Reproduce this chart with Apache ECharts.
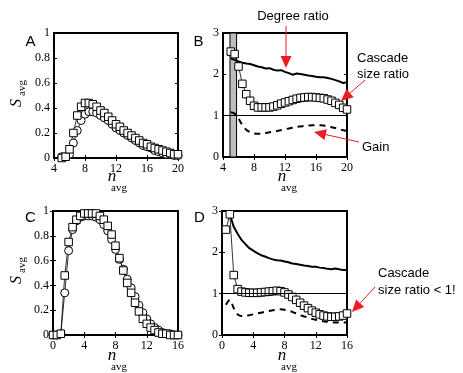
<!DOCTYPE html>
<html><head><meta charset="utf-8">
<script src="https://cdn.jsdelivr.net/npm/echarts@6/dist/echarts.min.js"></script>
<style>html,body{margin:0;padding:0;background:#fff}#c{width:463px;height:373px}</style>
</head><body><div id="c"></div>
<script>
// ---------- data ----------
var xA = [5,5.5,6,6.5,7,7.5,8,8.5,9,9.5,10,10.5,11,11.5,12,12.5,13,13.5,14,14.5,15,15.5,16,16.5,17,17.5,18,18.5,19,19.5,20];
var aSquares = [0.00,0.01,0.07,0.20,0.34,0.41,0.44,0.44,0.43,0.41,0.38,0.36,0.33,0.30,0.27,0.25,0.22,0.20,0.18,0.16,0.14,0.12,0.11,0.09,0.08,0.07,0.06,0.05,0.04,0.03,0.03];
var aCircles = [0.01,0.01,0.03,0.12,0.22,0.30,0.35,0.37,0.37,0.36,0.34,0.32,0.30,0.27,0.24,0.22,0.20,0.18,0.16,0.14,0.12,0.10,0.09,0.08,0.06,0.05,0.04,0.03,0.03,0.02,0.02];

var xB = xA;
var bDegree = [2.38,2.35,2.31,2.28,2.26,2.25,2.22,2.19,2.17,2.14,2.15,2.11,2.09,2.10,2.06,2.03,1.99,2.02,2.01,1.99,1.97,1.96,1.94,1.93,1.93,1.91,1.89,1.86,1.83,1.79,1.81];
var bCascade = [2.55,2.49,2.19,1.77,1.52,1.36,1.24,1.20,1.20,1.20,1.20,1.22,1.25,1.29,1.32,1.35,1.38,1.41,1.43,1.44,1.45,1.45,1.44,1.43,1.42,1.39,1.36,1.31,1.26,1.19,1.15];
var bGain = [1.08,1.05,0.93,0.77,0.66,0.60,0.57,0.56,0.56,0.58,0.60,0.61,0.63,0.65,0.67,0.69,0.71,0.73,0.74,0.75,0.76,0.77,0.77,0.77,0.76,0.74,0.72,0.70,0.67,0.65,0.63];
var bBand = [4.9, 5.75];

var xC = [0,0.5,1,1.5,2,2.5,3,3.5,4,4.5,5,5.5,6,6.5,7,7.5,8,8.5,9,9.5,10,10.5,11,11.5,12,12.5,13,13.5,14,14.5,15,15.5,16];
var cSquares = [0,0,0.01,0.48,0.75,0.87,0.93,0.96,0.98,0.98,0.98,0.98,0.96,0.93,0.88,0.81,0.72,0.62,0.52,0.42,0.34,0.26,0.19,0.13,0.09,0.06,0.04,0.02,0.01,0.01,0,0,0];
var cCircles = [0,0,0.01,0.34,0.68,0.85,0.92,0.95,0.96,0.96,0.96,0.95,0.93,0.89,0.84,0.77,0.69,0.61,0.53,0.45,0.38,0.31,0.24,0.18,0.13,0.09,0.06,0.04,0.02,0.01,0.01,0,0];

var xD = [0.5,1,1.5,2,2.5,3,3.5,4,4.5,5,5.5,6,6.5,7,7.5,8,8.5,9,9.5,10,10.5,11,11.5,12,12.5,13,13.5,14,14.5,15,15.5,16];
var dCascade = [2.55,2.92,1.45,1.11,1.05,1.03,1.02,1.02,1.02,1.03,1.04,1.05,1.06,1.07,1.06,1.03,0.98,0.92,0.85,0.78,0.71,0.65,0.59,0.54,0.50,0.47,0.45,0.44,0.44,0.45,0.47,0.52];
var dDegree = [null,2.92,2.62,2.45,2.30,2.20,2.10,2.04,1.98,1.93,1.90,1.86,1.83,1.81,1.80,1.78,1.76,1.73,1.72,1.70,1.68,1.67,1.65,1.65,1.63,1.62,1.60,1.59,1.61,1.59,1.57,1.57];
var dGain = [0.73,0.85,0.65,0.50,0.46,0.47,0.48,0.50,0.52,0.54,0.56,0.58,0.60,0.61,0.62,0.61,0.59,0.56,0.52,0.48,0.45,0.42,0.39,0.37,0.35,0.33,0.32,0.31,0.30,0.30,0.30,0.31];

var ticksAB_x = [4, 20, 4];
var ticksCD_x = [0, 16, 4];
var ticksS_y = [0, 1, 0.2];
var ticksR_y = [0, 3, 1];

// ---------- helpers ----------
function pairs(xs, ys){ var o=[]; for(var i=0;i<xs.length;i++){ if(ys[i]!==null) o.push([xs[i],ys[i]]); } return o; }
var serif = 'Liberation Serif';
function xAx(g, t, pos){
  return {type:'value', gridIndex:g, min:t[0], max:t[1], interval:t[2], position:pos,
    axisLine:{show:false}, splitLine:{show:false},
    axisTick:{show:true, inside:true, length:3, lineStyle:{color:'#000', width:1}},
    axisLabel:{show:pos==='bottom', color:'#000', fontFamily:serif, fontSize:12, margin:5}};
}
function yAx(g, t, pos){
  return {type:'value', gridIndex:g, min:t[0], max:t[1], interval:t[2], position:pos,
    axisLine:{show:false}, splitLine:{show:false},
    axisTick:{show:true, inside:true, length:3, lineStyle:{color:'#000', width:1}},
    axisLabel:{show:pos==='left', color:'#000', fontFamily:serif, fontSize:12, margin:4}};
}
function markers(xi, yi, xs, ys, sym, size){
  return {type:'line', xAxisIndex:xi, yAxisIndex:yi, data:pairs(xs,ys), symbol:sym, symbolSize:size,
    showSymbol:true, lineStyle:{color:'#000', width:0.8}, itemStyle:{color:'#fff', borderColor:'#000', borderWidth:1},
    animation:false, z:3};
}
function solid(xi, yi, xs, ys){
  return {type:'line', xAxisIndex:xi, yAxisIndex:yi, data:pairs(xs,ys), symbol:'none',
    lineStyle:{color:'#000', width:2}, animation:false, z:2};
}
function dashed(xi, yi, xs, ys){
  return {type:'line', xAxisIndex:xi, yAxisIndex:yi, data:pairs(xs,ys), symbol:'none', smooth:0.3,
    lineStyle:{color:'#000', width:2, type:[6,5]}, animation:false, z:2};
}
var oneLine = {silent:true, symbol:'none', label:{show:false}, lineStyle:{color:'#000', width:1, type:'solid'}, data:[{yAxis:1}], animation:false};

var grids = [
  {left:54, top:33, width:124, height:125},
  {left:223, top:33, width:124, height:124},
  {left:53, top:211, width:125, height:124},
  {left:222, top:211, width:125, height:124}
].map(function(g){ g.show=true; g.borderColor='#000'; g.borderWidth=2; g.backgroundColor='transparent'; return g; });

var xAxes = [], yAxes = [];
[ticksAB_x, ticksAB_x, ticksCD_x, ticksCD_x].forEach(function(t,g){ xAxes.push(xAx(g,t,'bottom')); xAxes.push(xAx(g,t,'top')); });
[ticksS_y, ticksR_y, ticksS_y, ticksR_y].forEach(function(t,g){ yAxes.push(yAx(g,t,'left')); yAxes.push(yAx(g,t,'right')); });

var bCasc = markers(2,2,xB,bCascade,'rect',7.5);
bCasc.markArea = {silent:true, itemStyle:{color:'#bdbdbd', borderColor:'#000', borderWidth:1}, data:[[{xAxis:bBand[0]},{xAxis:bBand[1]}]]};
var bDeg = solid(2,2,xB,bDegree); bDeg.markLine = oneLine;
var dDeg = solid(6,6,xD,dDegree); dDeg.markLine = oneLine;

var series = [
  markers(0,0,xA,aCircles,'circle',8),
  markers(0,0,xA,aSquares,'rect',7.5),
  bDeg, dashed(2,2,xB,bGain), bCasc,
  markers(4,4,xC,cCircles,'circle',8),
  markers(4,4,xC,cSquares,'rect',7.5),
  dDeg, dashed(6,6,xD,dGain), markers(6,6,xD,dCascade,'rect',7.5)
];

// ---------- annotations ----------
var RED = '#ee1c24';
var sans = 'Liberation Sans';
function arrow(x1,y1,x2,y2){
  var dx=x2-x1, dy=y2-y1, L=Math.sqrt(dx*dx+dy*dy), ux=dx/L, uy=dy/L;
  var hl=12, hw=5.5, bx=x2-ux*hl, by=y2-uy*hl, px=-uy*hw, py=ux*hw;
  return [
    {type:'line', shape:{x1:x1,y1:y1,x2:bx+ux*2,y2:by+uy*2}, style:{stroke:RED, lineWidth:1}},
    {type:'polygon', shape:{points:[[x2,y2],[bx+px,by+py],[bx-px,by-py]]}, style:{fill:RED}}
  ];
}
function txt(x,y,s,opt){ opt=opt||{}; return {type:'text', x:x, y:y, style:{text:s, fill:'#000', font:(opt.font||'13px '+sans), textAlign:opt.align||'left', textVerticalAlign:'middle'}}; }
function subName(x,y){ return [
  {type:'text', x:x, y:y, style:{text:'n', fill:'#000', font:'italic 17px '+serif, textAlign:'center', textVerticalAlign:'middle'}},
  {type:'text', x:x+7, y:y+11, style:{text:'avg', fill:'#000', font:'11px '+serif, textAlign:'center', textVerticalAlign:'middle'}}
];}
function yName(x,y){ return [
  {type:'text', x:x, y:y, rotation:Math.PI/2, style:{text:'S', fill:'#000', font:'italic 16px '+serif, textAlign:'center', textVerticalAlign:'middle'}},
  {type:'text', x:x+5, y:y-15, rotation:Math.PI/2, style:{text:'avg', fill:'#000', font:'11px '+serif, textAlign:'center', textVerticalAlign:'middle'}}
];}

var graphic = [].concat(
  txt(30.5,42,'A',{font:'15px '+sans, align:'center'}),
  txt(198.5,42,'B',{font:'15px '+sans, align:'center'}),
  txt(30.5,217.5,'C',{font:'15px '+sans, align:'center'}),
  txt(199.5,217.5,'D',{font:'15px '+sans, align:'center'}),
  txt(293,16,'Degree ratio',{align:'center'}),
  txt(357,58,'Cascade'), txt(357,74,'size ratio'),
  txt(362,147,'Gain'),
  txt(378,273,'Cascade'), txt(378,290,'size ratio < 1!'),
  arrow(286,26,286,68),
  arrow(365,80,341,101),
  arrow(359,142,314,132),
  arrow(375,287,352,312),
  subName(112,177), subName(282,177), subName(112,356), subName(282,356),
  yName(17,103), yName(17,280)
);

var chart = echarts.init(document.getElementById('c'), null, {renderer:'canvas'});
chart.setOption({animation:false, backgroundColor:'#fff', grid:grids, xAxis:xAxes, yAxis:yAxes, series:series, graphic:graphic});
</script></body></html>
